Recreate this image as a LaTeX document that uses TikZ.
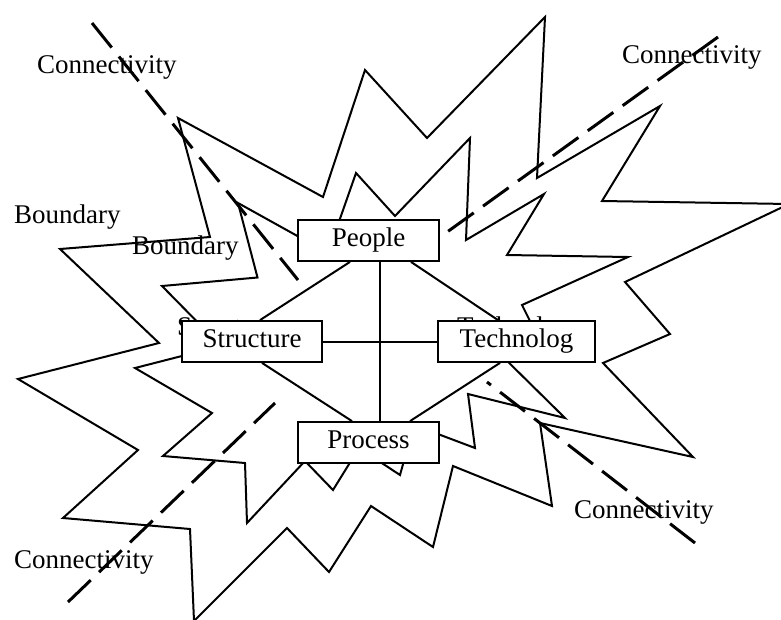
\documentclass[tikz,border=0pt]{standalone}
\usepackage{fontspec}
\setmainfont{Liberation Serif}
\tikzset{
  starline/.style={draw=black, line width=2pt, line join=miter},
  connline/.style={draw=black, line width=3pt, dash pattern=on 31.5pt off 11.5pt},
  boxnode/.style={draw=black, fill=white, line width=1.8pt, inner sep=0pt,
    minimum height=41pt, text height=18pt, text depth=6pt,
    font=\fontsize{27}{30}\selectfont},
  lbl/.style={anchor=base west, inner sep=0pt, font=\fontsize{27}{30}\selectfont},
  linkline/.style={draw=black, line width=2pt},
}
\begin{document}
\begin{tikzpicture}[x=1pt, y=-1pt]
\useasboundingbox (0,0) rectangle (781,619);

% labels partly hidden behind the boxes
\node[lbl] (hidS) at (177,335) {Structure};
\node[lbl] (hidT) at (457,335) {Technology};

% outer labels
\node[lbl] (conn1) at (37,73) {Connectivity};
\node[lbl] (conn2) at (622,63) {Connectivity};
\node[lbl] (conn3) at (14,568) {Connectivity};
\node[lbl] (conn4) at (574,518) {Connectivity};
\node[lbl] (bnd1) at (14,223) {Boundary};
\node[lbl] (bnd2) at (132,254) {Boundary};

% dashed connectivity axes
\coordinate (c1a) at (92,23);   \coordinate (c1b) at (298,280);
\coordinate (c2a) at (718,37);  \coordinate (c2b) at (436,240);
\coordinate (c3a) at (68,602);  \coordinate (c3b) at (275,403);
\coordinate (c4a) at (695,543); \coordinate (c4b) at (487,382);
\draw[connline] (c1a) -- (c1b);
\draw[connline] (c2a) -- (c2b);
\draw[connline] (c3a) -- (c3b);
\draw[connline] (c4a) -- (c4b);

% outer boundary
\draw[starline] (365,70) -- (427,138) -- (545,17) -- (537,178) -- (660,106)
  -- (602,201) -- (789,204) -- (625,282) -- (670,334) -- (603,363)
  -- (693,457) -- (540,423) -- (552,506) -- (453,466) -- (433,547)
  -- (371,506) -- (329,572) -- (287,528) -- (194,621) -- (190,529)
  -- (63,518) -- (138,450) -- (18,379) -- (159,343) -- (60,249)
  -- (210,237) -- (178,118) -- (323,197) -- cycle;

% inner boundary
\draw[starline] (356,173) -- (395,216) -- (470,138) -- (466,240) -- (544,194)
  -- (507,255) -- (628,257) -- (522,305) -- (537,335) -- (495,349)
  -- (565,418) -- (468,394) -- (475,448) -- (414,425) -- (400,475)
  -- (359,448) -- (333,490) -- (305,461) -- (247,523) -- (245,463)
  -- (163,456) -- (212,413) -- (135,368) -- (221,346) -- (162,286)
  -- (257.5,277.5) -- (238,203) -- (328,253) -- cycle;

% boxes
\node[boxnode, minimum width=141pt] (people) at (368.5,240.5) {People};
\node[boxnode, minimum width=140pt] (structure) at (252,341.5) {Structure};
\node[boxnode, minimum width=157pt] (technology) at (516.5,341.5) {Technolog};
\node[boxnode, minimum width=141pt] (process) at (368.5,442.5) {Process};

% diamond and cross links
\draw[linkline] ([xshift=-18.5pt]people.south) -- ([xshift=8pt]structure.north);
\draw[linkline] ([xshift=42.5pt]people.south) -- ([xshift=-18.5pt]technology.north);
\draw[linkline] ([xshift=10pt]structure.south) -- ([xshift=-16.5pt]process.north);
\draw[linkline] ([xshift=-16.5pt]technology.south) -- ([xshift=41.5pt]process.north);
\draw[linkline] ([xshift=11.5pt]people.south) -- ([xshift=11.5pt]process.north);
\draw[linkline] (structure.east) -- (technology.west);
\end{tikzpicture}
\end{document}
